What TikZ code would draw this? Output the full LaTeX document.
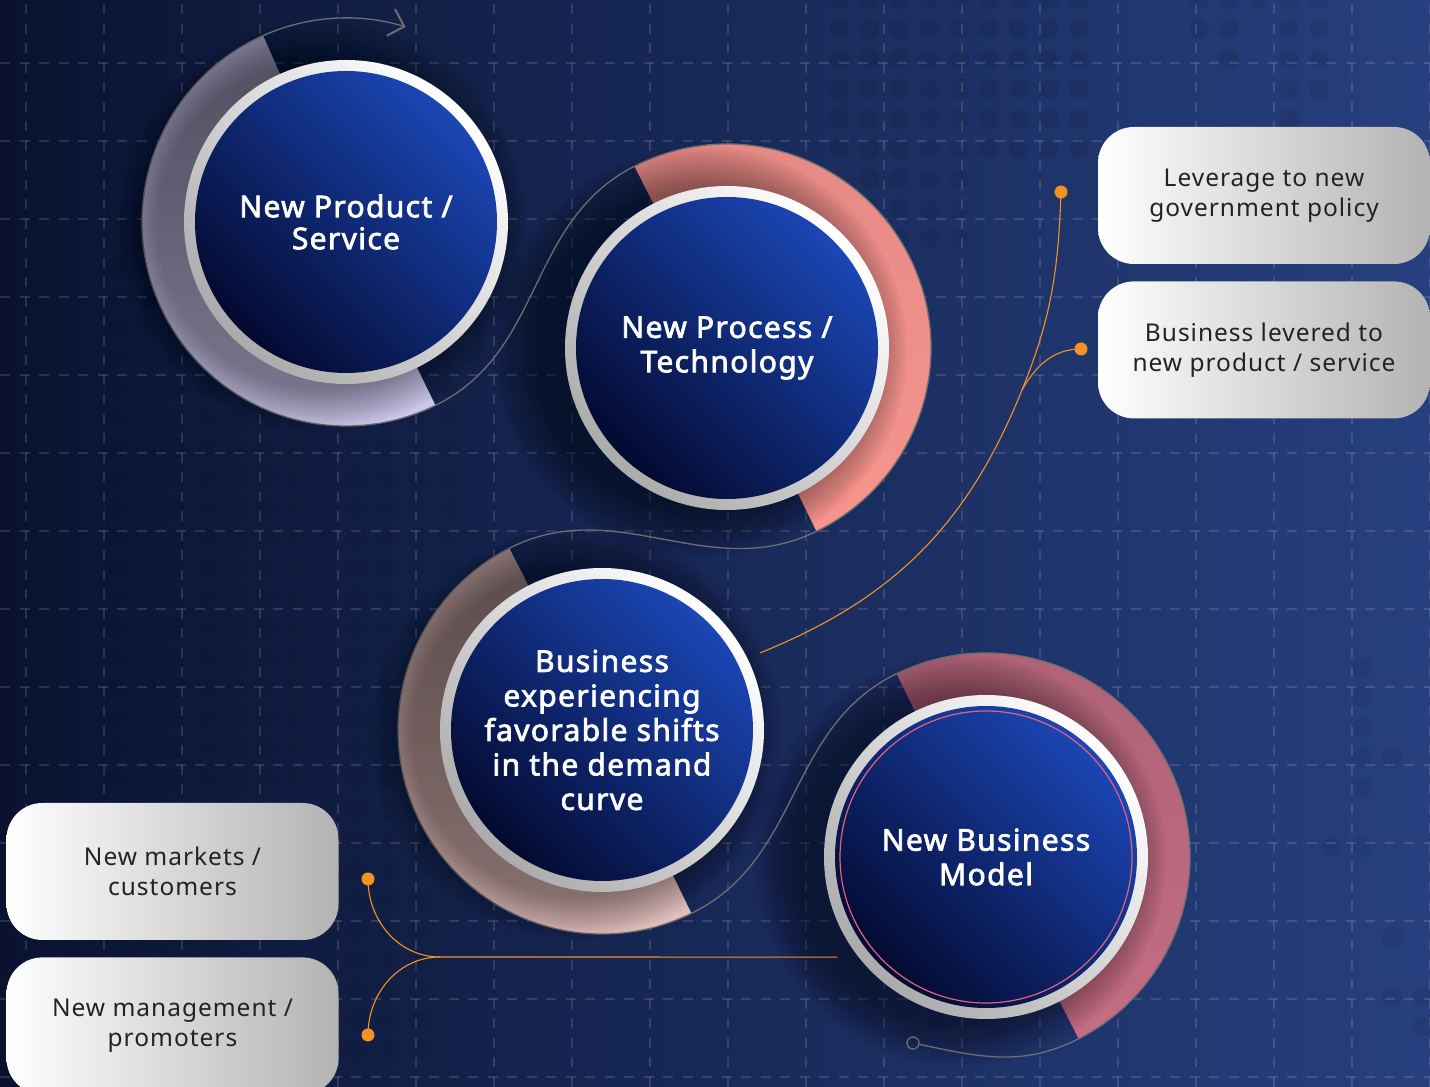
\documentclass[tikz,border=0pt]{standalone}
\usepackage{fontspec}
\setmainfont{Noto Sans}
\newfontfamily\corefont{Noto Sans}[FakeBold=2.4, LetterSpace=4.5]
\newfontfamily\notefont{Noto Sans}[LetterSpace=4]
\usetikzlibrary{positioning,calc,arrows.meta}

\definecolor{bgleft}{HTML}{0A1230}
\definecolor{bgright}{HTML}{26407F}
\definecolor{diskdark}{HTML}{030A30}
\definecolor{disklight}{HTML}{1B46B5}
\definecolor{ringdark}{HTML}{ABABAB}
\definecolor{boxdark}{HTML}{B3B3B3}
\definecolor{linkgray}{HTML}{6E6E70}
\definecolor{pinorange}{HTML}{F39321}
\definecolor{boxtext}{HTML}{232323}
\definecolor{lavtop}{HTML}{8A86A2}
\definecolor{lavbot}{HTML}{D2CBF1}
\definecolor{salmtop}{HTML}{E68A86}
\definecolor{salmbot}{HTML}{F7948D}
\definecolor{rosetop}{HTML}{9A8282}
\definecolor{rosebot}{HTML}{EDC7C4}
\definecolor{berrytop}{HTML}{AD6177}
\definecolor{berrybot}{HTML}{C46D84}
\definecolor{modelring}{HTML}{E2617D}

\begin{document}
\begin{tikzpicture}[x=1pt,y=1pt,
    core node/.style={circle, minimum size=302pt, inner sep=0pt, align=center,
        text=white, font=\corefont\fontsize{30}{34.5}\selectfont,
        bottom color=diskdark, top color=disklight, shading angle=-45},
    note box/.style={rounded corners=36pt, minimum width=332pt, minimum height=137pt,
        align=center, text=boxtext, font=\notefont\fontsize{24.5}{30.5}\selectfont,
        left color=white, right color=boxdark},
    pin dot/.style={circle, fill=pinorange, inner sep=0pt, minimum size=13pt},
    pin line/.style={pinorange, line width=1.1pt},
    link/.style={linkgray, line width=1.3pt},
    grid line/.style={white, opacity=0.13, line width=1.2pt, dash pattern=on 10pt off 9.5pt},
    bg dot/.style={black, opacity=0.08}
    ]

    \useasboundingbox (0,0) rectangle (1430,1087);
    \clip (0,0) rectangle (1430,1087);

    % background
    \shade[left color=bgleft, right color=bgright] (0,0) rectangle (1430,1087);
    \foreach \dx in {839,869,...,1079} \foreach \dy in {1088,1058,...,938}
        \fill[bg dot] (\dx,\dy) circle (10);
    \foreach \dx in {869,899,...,959} \foreach \dy in {908,878,848}
        \fill[bg dot] (\dx,\dy) circle (10);
    \foreach \dx/\dy in {1199/1088,1229/1088,1259/1088,1289/1088,1319/1088,1199/1058,
        1229/1058,1289/1058,1319/1058,1229/1028,1289/1028,1319/1028,1289/998,1319/998,
        1289/968,1362/420,1362/390,1362/360,1362/330,1392/330,1362/300,1332/240,
        1362/240,1392/150,1392/90,1422/90,1422/60}
        \fill[bg dot] (\dx,\dy) circle (10);
    \foreach \dx in {117,147,...,477} \foreach \dy in {819,789,...,309}
        \fill[bg dot, opacity=0.05] (\dx,\dy) circle (10);
    \foreach \dx in {358,388,418} \foreach \dy in {277,247,...,37}
        \fill[bg dot, opacity=0.05] (\dx,\dy) circle (10);
    \foreach \gx in {26,104,...,1430}
        \draw[grid line] (\gx,0) -- (\gx,1087);
    \foreach \gy in {10,88,...,1024}
        \draw[grid line] (0,\gy) -- (1430,\gy);

    % rings and bands
    \coordinate (c1) at (346,865);
    \coordinate (c2) at (727,739);
    \coordinate (c3) at (602,357);
    \coordinate (c4) at (986,230);
    \foreach \c/\a/\b/\ctop/\cbot in {c1/114/296/lavtop/lavbot, c2/-64/117/salmtop/salmbot,
        c3/117/296/rosetop/rosebot, c4/-63/116/berrytop/berrybot} {
        \shade[top color=\ctop, bottom color=\cbot] ($(\c)+(\a:204)$)
            arc[start angle=\a, end angle=\b, radius=204] -- ($(\c)+(\b:158)$)
            arc[start angle=\b, end angle=\a, radius=158] -- cycle;
        \draw[link] ($(\c)+(\a:204)$) arc[start angle=\a, end angle=\b, radius=204];
        \foreach \r in {164,167,...,206}
            \fill[black, opacity=0.03] ($(\c)+(-26,-4)$) circle (\r);
        \shade[bottom color=ringdark, top color=white, shading angle=-45] (\c) circle (162);
    }

    \node[core node, font=\corefont\fontsize{30}{32}\selectfont] (prod) at (c1) {New Product /\\Service};
    \node[core node] (proc) at (c2) {New Process /\\Technology};
    \node[core node] (shift) at (c3) {Business\\experiencing\\favorable shifts\\in the demand\\curve};
    \node[core node] (model) at (c4) {New Business\\Model};
    \draw[modelring, line width=1.2pt] (model.center) circle (146);

    % grey links
    \node[circle, draw=linkgray, line width=1.3pt, minimum size=12pt, inner sep=0pt] (tail) at (913,44) {};
    \draw[link, -{Straight Barb[length=14pt, width=28pt, line width=2pt]}] ($(prod)+(114:204)$)
        arc[start angle=114, end angle=73, radius=204];
    \draw[link] ($(prod)+(-64:204)$) to[out=26, in=207] ($(proc)+(117:204)$);
    \draw[link] ($(proc)+(-64:204)$) to[out=-154, in=27] ($(shift)+(117:204)$);
    \draw[link] ($(shift)+(-64:204)$) to[out=26, in=206] ($(model)+(116:204)$);
    \draw[link] ($(model)+(-63:204)$) to[out=-153, in=-12] (tail);

    % note boxes
    \node[note box] (gov) at (1264,891.5) {Leverage to new\\government policy};
    \node[note box] (lever) [below=17pt of gov] {Business levered to\\new product / service};
    \node[note box] (mkt) at (172.5,215.5) {New markets /\\customers};
    \node[note box] (mgmt) [below=17pt of mkt] {New management /\\promoters};

    % orange pins
    \coordinate (fork) at (1022,697);
    \coordinate (forkL) at (440,130);
    \draw[pin line] ($(shift)+(26:176)$) to[out=22, in=248] (fork) to[out=68, in=-92] (1061,895);
    \draw[pin line] (fork) to[out=60, in=180] (1081,738);
    \draw[pin line] ($(model)+(214:179)$) -- (forkL) to[out=180, in=-90] (368,208);
    \draw[pin line] (forkL) to[out=180, in=90] (368,52);
    \node[pin dot] (govdot) at (1061,895) {};
    \node[pin dot] (levdot) at (1081,738) {};
    \node[pin dot] (mktdot) at (368,208) {};
    \node[pin dot] (mgtdot) at (368,52) {};
\end{tikzpicture}
\end{document}
